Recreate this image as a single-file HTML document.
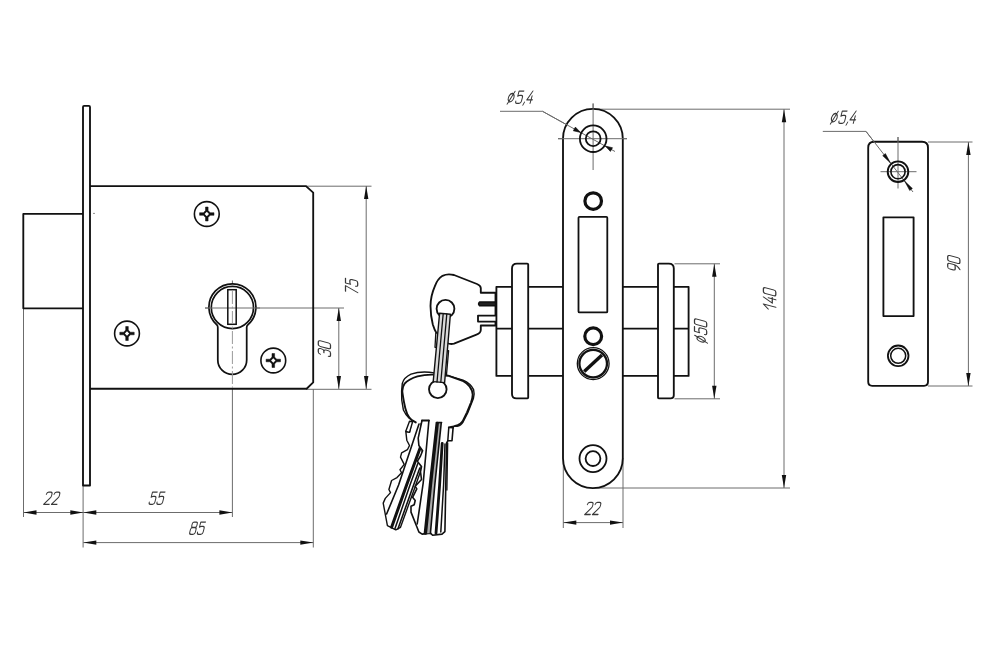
<!DOCTYPE html>
<html><head><meta charset="utf-8"><title>Lock drawing</title>
<style>
html,body{margin:0;padding:0;background:#fff;}
body{width:1000px;height:666px;overflow:hidden;font-family:"Liberation Sans",sans-serif;}
svg{display:block;}
.k{stroke:#111;fill:none;stroke-width:1.85;stroke-linejoin:round;stroke-linecap:round}
.kw{stroke:#111;fill:#fff;stroke-width:1.85;stroke-linejoin:round;stroke-linecap:round}
.t{stroke:#6c6c6c;fill:none;stroke-width:1}
.a{fill:#111;stroke:none}
.g{stroke:#383838;fill:none;stroke-width:1.45;stroke-linecap:round;stroke-linejoin:round}
</style></head>
<body>
<svg width="1000" height="666" viewBox="0 0 1000 666">
<rect width="1000" height="666" fill="#fff"/>
<defs>
<!-- arrowhead pointing +x, tip at origin -->
<path id="ah" d="M0 0 L-13 -2.2 L-13 2.2 Z"/>
<!-- phillips screw -->
<g id="scr">
<circle r="12.4" fill="#fff" stroke="#111" stroke-width="1.6"/>
<path d="M-1.3 -7 H1.3 V-3.4 L3.4 -1.3 H7.2 V1.3 H3.4 L1.3 3.4 V7 H-1.3 V3.4 L-3.4 1.3 H-7.2 V-1.3 H-3.4 L-1.3 -3.4Z" fill="#111" stroke="#111" stroke-width="0.5" stroke-linejoin="round"/>
<path d="M0 -2.2 L2.2 0 L0 2.2 L-2.2 0Z" fill="#fff"/>
</g>
<!-- GOST-like glyphs, box 0..8 wide, 0..14 tall (baseline at y=14) -->
<path id="g0" d="M2.2 0 H5.8 Q8 0 8 2.2 V11.8 Q8 14 5.8 14 H2.2 Q0 14 0 11.8 V2.2 Q0 0 2.2 0Z"/>
<path id="g1" d="M0.6 5.4 L6 0 V14"/>
<path id="g2" d="M0 2.6 Q0 0 2.4 0 H5.6 Q8 0 8 2.6 V4.2 Q8 5.6 6.8 6.8 L0 14 H8"/>
<path id="g3" d="M0 2.4 Q0 0 2.4 0 H5.6 Q8 0 8 2.4 V4 Q8 6.4 5.6 6.4 H3.4 M5.6 6.4 Q8 6.4 8 8.8 V11.6 Q8 14 5.6 14 H2.4 Q0 14 0 11.6"/>
<path id="g4" d="M5.4 0 L0 10 H8 M6 5.5 V14"/>
<path id="g5" d="M7.6 0 H0.8 V5.8 Q2 5 3.6 5 H5.6 Q8 5 8 7.4 V11.6 Q8 14 5.6 14 H2.4 Q0 14 0 11.6"/>
<path id="g7" d="M0 0 H8 L2.6 14"/>
<path id="g8" d="M2.4 0 H5.6 Q7.6 0 7.6 2 V4.2 Q7.6 6.2 5.6 6.2 H2.4 Q0.4 6.2 0.4 4.2 V2 Q0.4 0 2.4 0Z M2.4 6.2 Q0 6.2 0 8.6 V11.6 Q0 14 2.4 14 H5.6 Q8 14 8 11.6 V8.6 Q8 6.2 5.6 6.2"/>
<path id="g9" d="M8 6 Q8 8.6 5.6 8.6 H2.4 Q0 8.6 0 6.2 V2.4 Q0 0 2.4 0 H5.6 Q8 0 8 2.4 V7 Q8 11.5 3 14"/>
<path id="gc" d="M1.6 12.6 L0.4 16"/>
<path id="gd" d="M4 2.8 A3.9 4.8 0 1 0 4.01 2.8 M7.2 0.3 L0.8 14.8"/>
</defs>

<!-- ================= LEFT VIEW ================= -->
<g id="left">
<!-- thin extension / dimension lines -->
<g class="t">
<path d="M306 186.2 H371.5"/>
<path d="M306 389.3 H371.5"/>
<path d="M366.2 186 V389"/>
<path d="M205 308 H344"/>
<path d="M338.8 308 V389"/>
<path d="M23.5 308 V517"/>
<path d="M83.1 485 V547.5"/>
<path d="M232.4 389 V517"/>
<path d="M313.3 389 V547.5"/>
<path d="M23.5 512.5 H232.4"/>
<path d="M83.3 542.6 H313.3"/>
<path d="M232.4 280.5 V284"/>
</g>
<g class="a">
<use href="#ah" transform="translate(366.2 186) rotate(-90)"/>
<use href="#ah" transform="translate(366.2 389) rotate(90)"/>
<use href="#ah" transform="translate(338.8 308) rotate(-90)"/>
<use href="#ah" transform="translate(338.8 389) rotate(90)"/>
<use href="#ah" transform="translate(23.5 512.5) rotate(180)"/>
<use href="#ah" transform="translate(83.3 512.5)"/>
<use href="#ah" transform="translate(83.3 512.5) rotate(180)"/>
<use href="#ah" transform="translate(232.4 512.5)"/>
<use href="#ah" transform="translate(83.3 542.6) rotate(180)"/>
<use href="#ah" transform="translate(313.3 542.6)"/>
</g>
<!-- bolt -->
<path class="k" d="M83 213.9 H23.3 V308.3 H83"/>
<!-- body -->
<path class="k" d="M90 186.15 H306 L313.2 192.6 V382.4 L306.6 388.75 H90"/>
<!-- faceplate -->
<path class="kw" d="M83 107 Q83 105.9 84.1 105.9 H88.9 Q90 105.9 90 107 V485.5 H83Z"/>
<circle cx="94" cy="213.4" r="0.6" fill="#444"/>
<!-- screws -->
<use href="#scr" transform="translate(206.8 214)"/>
<use href="#scr" transform="translate(127 333.5)"/>
<use href="#scr" transform="translate(273.3 360.5)"/>
<!-- cylinder -->
<path class="kw" style="stroke-width:1.75" d="M217.8 360 V327.4 Q217.8 326 217 325 A23.5 23.5 0 1 1 247.6 325.2 Q246.7 326 246.7 327.4 V360 A14.45 14.45 0 0 1 217.8 360Z"/>
<circle cx="232.4" cy="307.5" r="21.1" fill="none" stroke="#111" stroke-width="1.7"/>
<path class="t" d="M205 308 H260"/>
<rect x="227.8" y="289.7" width="8.4" height="34.6" fill="none" stroke="#111" stroke-width="1.5"/>
<path class="t" d="M232.4 291 V388" stroke-dasharray="13 2.5 2 2.5" style="stroke:#9a9a9a"/>
</g>

<!-- ================= MIDDLE VIEW ================= -->
<g id="mid">
<g class="t">
<path d="M594 109.2 H790"/>
<path d="M593 488 H790"/>
<path d="M784 109.2 V488"/>
<path d="M674.5 263.8 H720"/>
<path d="M674.5 398.8 H720"/>
<path d="M714.3 263.8 V398.8"/>
<path d="M563.3 458 V528"/>
<path d="M623 458 V528"/>
<path d="M563.3 522.6 H623"/>
<path d="M558 138.7 H627"/>
<path d="M593.1 103.5 V170"/>
<path d="M500 111.3 H542.5 L615 151.5"/>
</g>
<g class="a">
<use href="#ah" transform="translate(784 109.2) rotate(-90)"/>
<use href="#ah" transform="translate(784 488) rotate(90)"/>
<use href="#ah" transform="translate(714.3 263.8) rotate(-90)"/>
<use href="#ah" transform="translate(714.3 398.8) rotate(90)"/>
<use href="#ah" transform="translate(563.3 522.6) rotate(180)"/>
<use href="#ah" transform="translate(623 522.6)"/>
</g>
<!-- cylinder bodies -->
<path class="k" d="M563 286.8 H496.4 V375.9 H563 M496.4 328.6 H563"/>
<path class="k" d="M622.8 286.8 H688.6 V375.9 H622.8 M622.8 328.6 H688.6"/>
<!-- flanges -->
<path class="kw" d="M517 263.6 H527.2 Q528.2 263.6 528.2 264.6 V397.6 Q528.2 398.4 527.4 398.4 H516.5 Q512 398.4 512 393.9 V268.6 Q512 263.6 517 263.6Z"/>
<path class="kw" d="M659 263.6 H668.8 Q673.8 263.6 673.8 268.6 V395.2 Q673.8 398.4 670.6 398.4 H658.8 Q658 398.4 658 397.6 V264.6 Q658 263.6 659 263.6Z"/>
<!-- faceplate -->
<path class="kw" d="M563 138.7 A29.9 29.9 0 0 1 622.8 138.7 V458.3 A29.9 29.9 0 0 1 563 458.3Z"/>
<g class="t">
<path d="M558 138.7 H627"/>
<path d="M593.1 103.5 V170"/>
<path d="M542.5 111.3 L615 151.5"/>
</g>
<!-- holes -->
<circle cx="593.2" cy="138.7" r="13.3" style="stroke-width:1.8" class="k"/>
<circle cx="593.2" cy="138.7" r="7.4" style="stroke-width:1.8" class="k"/>
<circle cx="593" cy="458.6" r="13.5" style="stroke-width:1.8" class="k"/>
<circle cx="593" cy="458.6" r="7.4" style="stroke-width:1.8" class="k"/>
<circle cx="593.2" cy="201.1" r="8.3" style="stroke-width:3.2" class="k"/>
<circle cx="593.2" cy="336.2" r="8.4" style="stroke-width:3.2" class="k"/>
<rect x="578.5" y="216.8" width="28.8" height="95.6" rx="1" style="stroke-width:1.8" class="k"/>
<!-- set screw -->
<circle cx="593.2" cy="363.6" r="15.9" style="stroke-width:1.3" class="k"/>
<circle cx="593.2" cy="363.6" r="13.8" style="stroke-width:2.3" class="k"/>
<path d="M584.2 371.6 L602 354.9" style="stroke-width:3.4;stroke-linecap:butt" class="k"/>
<!-- leader arrows -->
<path d="M580.5 132.4 L573.3 130.8 L575.4 127.1Z" fill="#111" stroke="#111" stroke-width="0.6" stroke-linejoin="round"/>
<path d="M605.3 146.1 L610.4 151.4 L612.5 147.7Z" fill="#111" stroke="#111" stroke-width="0.6" stroke-linejoin="round"/>
</g>

<!-- ================= RIGHT VIEW ================= -->
<g id="right">
<g class="t">
<path d="M928 142 H972.5"/>
<path d="M928 386 H972.5"/>
<path d="M968.4 142 V386"/>
<path d="M880.5 171.7 H916.5"/>
<path d="M898 137 V188.5"/>
<path d="M822.8 131.4 H866 L913 192"/>
</g>
<g class="a">
<use href="#ah" transform="translate(968.4 142) rotate(-90)"/>
<use href="#ah" transform="translate(968.4 386) rotate(90)"/>
</g>
<path class="kw" d="M868.2 147.7 Q868.2 141.7 874.2 141.7 H922 Q928 141.7 928 147.7 V381.8 Q928 385.8 924 385.8 H872.2 Q868.2 385.8 868.2 381.8Z"/>
<g class="t">
<path d="M880.5 171.7 H916.5"/>
<path d="M898 137 V188.5"/>
<path d="M866 131.4 L913 192"/>
</g>
<rect x="883.4" y="217.3" width="30.2" height="98.8" class="k"/>
<circle cx="898" cy="171.7" r="10.3" style="stroke-width:1.9" class="k"/>
<circle cx="898" cy="171.7" r="7.1" style="stroke-width:1.6" class="k"/>
<circle cx="898.2" cy="355.8" r="10.3" style="stroke-width:1.8" class="k"/>
<circle cx="898.2" cy="355.8" r="7.5" style="stroke-width:1.5" class="k"/>
<path d="M890.5 163.0 L882.7 155.7 L885.4 153.6Z" fill="#111" stroke="#111" stroke-width="0.5" stroke-linejoin="round"/>
<path d="M904.6 181.1 L909.7 190.5 L912.4 188.4Z" fill="#111" stroke="#111" stroke-width="0.5" stroke-linejoin="round"/>
</g>

<!-- ================= KEYS ================= -->
<g id="keys">
<!-- upper key inserted into cylinder -->
<path class="kw" d="M495.5 292.7 H480.8 V288 Q480.6 285.4 477 284 L454 275 Q447.5 273.3 442.5 275.8 Q437.4 279 434.8 286.4 Q430.6 296 430.5 306 Q430.6 316 432.8 324.5 Q434.4 330 437 334 L447 343 Q450.5 344.6 454 343.6 L476.5 334.6 Q480.6 333 480.8 330 V325.5 H495.5Z"/>
<path d="M495.5 302 H479.5 Q477.6 303.9 479.5 305.8 H495.5Z" fill="#222" stroke="#111" stroke-width="1.4" stroke-linejoin="round"/>
<path class="kw" d="M495.5 315.6 H478 V321.6 H495.5"/>
<circle class="kw" cx="445.5" cy="308.8" r="8.9"/>
<!-- small ring clips -->
<path class="kw" style="stroke-width:1.3" d="M435.8 333.1 L438.6 333.1 L437.3 347.3 L435 347.3Z"/>
<path class="kw" style="stroke-width:1.3" d="M446.4 350.7 L448.6 350.7 L445.9 381.5 L443.8 381.5Z"/>
<!-- back key heads -->
<path style="stroke-width:1.4" class="kw" d="M402.3 383.4 Q404 377.5 411 374.2 Q421 370.6 434.4 372.9 L448 375.7 L463 380.2 Q470.5 383.4 473.6 389.6 Q474.8 394 473.4 398.5 L467.8 412.8 L463.2 421.8 Q461 425.6 457 426.2 L415.8 422.4 L409 418 Q405.6 414.8 403.4 410 Q401 400 401.6 391Z"/>
<!-- tilted back key blade -->
<path style="stroke-width:1.4" class="kw" d="M409.5 432.4 L405.8 431.3 L406.8 440.2 L409.5 445.5 L407.4 449.7 L401.6 452.9 L400.5 457.1 L404.2 464.4 L400 469.7 L401.6 472.8 L397 477.6 L391.6 480.5 L388.9 489.5 L390.5 492.6 L385.3 498.4 L383.2 503.1 L387.4 525.7 L395.8 529.9 L400.5 527.3 L414.7 487.9 L421 470 L422.5 447 L421 421 L412 421Z"/>
<path d="M419 424 L415.3 435 L398.6 485 L386.6 514" style="stroke-width:1.6" class="k"/>
<path d="M420.2 447.8 L406.6 485 L391.6 527.2" style="stroke-width:3" class="k"/>
<path d="M417.8 463.6 L410 485 L395 528.6" style="stroke-width:1.5" class="k"/>
<path d="M419.8 468 L413.6 485 L398 528.8" style="stroke-width:1.6" class="k"/>
<path style="stroke-width:1.4" class="kw" d="M409.5 421.3 L412.6 421.8 L409.5 432.4 L405.8 431.3Z"/>
<!-- front key head fill -->
<path d="M415.8 422.4 L453.6 426.4 L457.6 425.2 Q460.6 424.2 462.6 421.3 L467 412.3 L471 402.6 Q472.6 398.4 472.7 394.4 Q472.6 390.6 469.6 386.4 Q467.4 383.6 462.6 380.8 L448 375.7 L433.3 374.6 Q425 374.4 417.5 376.3 Q409 378.8 404.6 383.6 Q402.6 386.2 402.3 390.9 Q402.2 392 404 402.2 Q405 408.6 407.4 414.5 Q408.8 417.6 411.9 420.2Z" fill="#fff" stroke="none"/>
<!-- front key blade -->
<path fill="#fff" stroke="none" d="M422 420.5 L418.2 438.1 L418.9 445.5 L422.6 450.8 L420.5 456 L417.3 461.3 L421.5 466.5 L420.5 471.8 L421.5 479.5 L415.2 486.3 L416.8 488.9 L412.6 497.3 L415.2 500.5 L414.2 504.7 L411 506.3 L411 512.1 L418.9 532 L422.1 534.1 L430.5 533.1 L432.6 535.2 L442 534.1 L444.9 531.6 L446.6 443 L447.8 440.8 L452 440.8 L453.1 427.6 L453.6 420Z"/>
<path class="k" style="stroke-width:1.6" d="M422 420.5 L418.2 438.1 L418.9 445.5 L422.6 450.8 L420.5 456 L417.3 461.3 L421.5 466.5 L420.5 471.8 L421.5 479.5 L415.2 486.3 L416.8 488.9 L412.6 497.3 L415.2 500.5 L414.2 504.7 L411 506.3 L411 512.1 L418.9 532 L422.1 534.1 L430.5 533.1 L432.6 535.2 L442 534.1 L444.9 531.6 L446.6 443 L447.8 440.8 L452 440.8 L453.1 427.6"/>
<path d="M447.7 443 L446.9 490" class="k" style="stroke-width:1.3"/>
<path d="M437.2 423.4 L441.2 423.4 L434.8 485 L430.4 533.2 L425.4 533.2 L430.4 485Z" fill="#aaa" stroke="none"/>
<path d="M428.9 420.5 L423.2 483 L417.2 524" style="stroke-width:1.6" class="k"/>
<path d="M437.2 423.4 L430.4 485 L425.4 533" style="stroke-width:3.4" class="k"/>
<path d="M441.2 423.4 L434.8 485 L430.4 533.4" style="stroke-width:1.6" class="k"/>
<path d="M442.2 443.4 L439.6 485 L436 533.2" style="stroke-width:2.8" class="k"/>
<path d="M445 444 L443.6 485 L440.8 532" style="stroke-width:1.5" class="k"/>
<path d="M448.8 427.4 L447.8 440.8" class="k" style="stroke-width:1.5"/>
<!-- front key head outline -->
<path class="k" style="stroke-width:1.9" d="M453.1 427.6 L448.8 427.4 L453.6 426.4 L457.6 425.2 Q460.6 424.2 462.6 421.3 L467 412.3 L471 402.6 Q472.6 398.4 472.7 394.4 Q472.6 390.6 469.6 386.4 Q467.4 383.6 462.6 380.8 L448 375.7 L433.3 374.6 Q425 374.4 417.5 376.3 Q409 378.8 404.6 383.6 Q402.6 386.2 402.3 390.9 Q402.2 392 404 402.2 Q405 408.6 407.4 414.5 Q408.8 417.6 411.9 420.2 L415.8 422.4 M422 420.5 H428.9"/>
<path class="k" style="stroke-width:1.6" d="M436.4 422.6 H441.6"/>
<circle class="kw" cx="437.8" cy="389.3" r="8.8"/>
<!-- key ring band -->
<path d="M439.6 313.2 L450.4 314.2 L444.6 382.6 L433.2 381.6Z" fill="#dadada" stroke="#111" stroke-width="1.4" stroke-linejoin="round"/>
<path d="M443.2 313.6 L437 382 M446.8 313.9 L440.8 382.3" class="k" style="stroke-width:1.3"/>
</g>
<g id="txt">
<g class="g" transform="translate(52 498.2) rotate(0) translate(-5.03 -6.10)"><use href="#g2" transform="translate(0.00 0) skewX(-15) scale(0.697 0.871)"/><use href="#g2" transform="translate(7.76 0) skewX(-15) scale(0.697 0.871)"/></g>
<g class="g" transform="translate(157 498.2) rotate(0) translate(-5.03 -6.10)"><use href="#g5" transform="translate(0.00 0) skewX(-15) scale(0.697 0.871)"/><use href="#g5" transform="translate(7.76 0) skewX(-15) scale(0.697 0.871)"/></g>
<g class="g" transform="translate(197.5 528.2) rotate(0) translate(-5.03 -6.10)"><use href="#g8" transform="translate(0.00 0) skewX(-15) scale(0.697 0.871)"/><use href="#g5" transform="translate(7.76 0) skewX(-15) scale(0.697 0.871)"/></g>
<g class="g" transform="translate(351.6 286.2) rotate(-90) translate(-5.03 -6.10)"><use href="#g7" transform="translate(0.00 0) skewX(-15) scale(0.697 0.871)"/><use href="#g5" transform="translate(7.76 0) skewX(-15) scale(0.697 0.871)"/></g>
<g class="g" transform="translate(324.4 348.6) rotate(-90) translate(-5.03 -6.10)"><use href="#g3" transform="translate(0.00 0) skewX(-15) scale(0.697 0.871)"/><use href="#g0" transform="translate(7.76 0) skewX(-15) scale(0.697 0.871)"/></g>
<g class="g" transform="translate(593 508.4) rotate(0) translate(-5.03 -6.10)"><use href="#g2" transform="translate(0.00 0) skewX(-15) scale(0.697 0.871)"/><use href="#g2" transform="translate(7.76 0) skewX(-15) scale(0.697 0.871)"/></g>
<g class="g" transform="translate(700.6 331) rotate(-90) translate(-9.21 -6.10)"><use href="#gd" transform="translate(0.00 0) skewX(-15) scale(0.697 0.871)"/><use href="#g5" transform="translate(8.36 0) skewX(-15) scale(0.697 0.871)"/><use href="#g0" transform="translate(16.11 0) skewX(-15) scale(0.697 0.871)"/></g>
<g class="g" transform="translate(769.6 299.4) rotate(-90) translate(-8.84 -6.20)"><use href="#g1" transform="translate(0.00 0) skewX(-15) scale(0.709 0.886)"/><use href="#g4" transform="translate(7.46 0) skewX(-15) scale(0.709 0.886)"/><use href="#g0" transform="translate(15.34 0) skewX(-15) scale(0.709 0.886)"/></g>
<g class="g" transform="translate(953.8 263.4) rotate(-90) translate(-5.03 -6.10)"><use href="#g9" transform="translate(0.00 0) skewX(-15) scale(0.697 0.871)"/><use href="#g0" transform="translate(7.76 0) skewX(-15) scale(0.697 0.871)"/></g>
<g class="g" transform="translate(520.8 97.2) rotate(0) translate(-10.69 -6.15)"><use href="#gd" transform="translate(0.00 0) skewX(-15) scale(0.703 0.879)"/><use href="#g5" transform="translate(8.42 0) skewX(-15) scale(0.703 0.879)"/><use href="#gc" transform="translate(16.24 0) skewX(-15) scale(0.703 0.879)"/><use href="#g4" transform="translate(19.05 0) skewX(-15) scale(0.703 0.879)"/></g>
<g class="g" transform="translate(844 117.2) rotate(0) translate(-10.69 -6.15)"><use href="#gd" transform="translate(0.00 0) skewX(-15) scale(0.703 0.879)"/><use href="#g5" transform="translate(8.42 0) skewX(-15) scale(0.703 0.879)"/><use href="#gc" transform="translate(16.24 0) skewX(-15) scale(0.703 0.879)"/><use href="#g4" transform="translate(19.05 0) skewX(-15) scale(0.703 0.879)"/></g>
</g>
<!--endtxt-->
</svg>
</body></html>
